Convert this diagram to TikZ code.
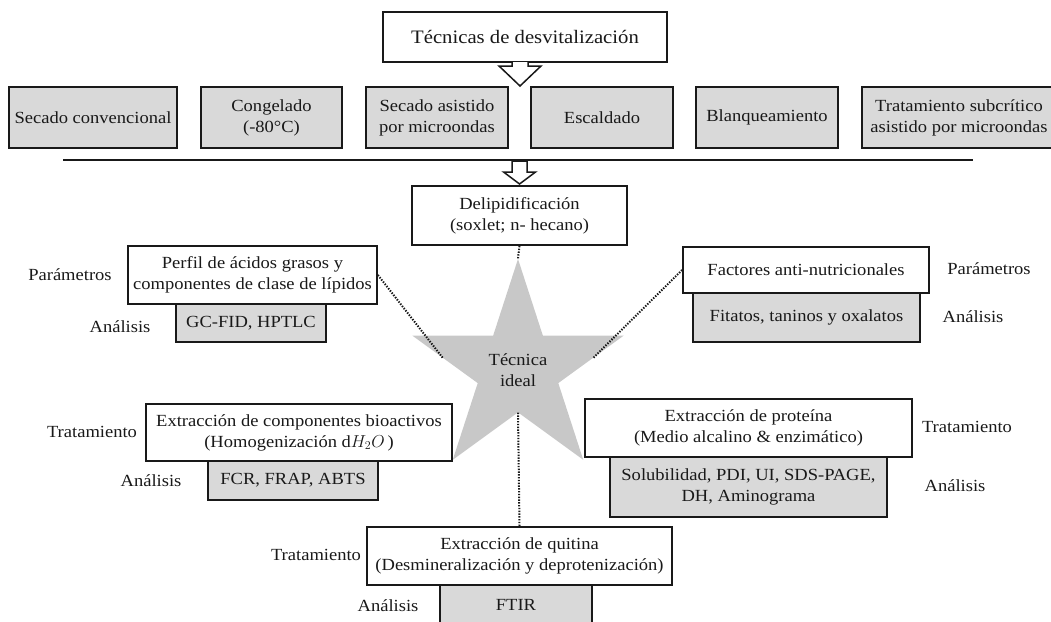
\documentclass[tikz,border=0pt]{standalone}
\usepackage{fontspec}
\setmainfont{Liberation Serif}[FakeStretch=1.09]
\usetikzlibrary{shapes.geometric}
\definecolor{boxgray}{RGB}{217,217,217}
\definecolor{stargray}{RGB}{200,200,200}
\definecolor{ink}{RGB}{25,25,25}

\begin{document}
\begin{tikzpicture}[x=1pt,y=-1pt,
  every node/.style={text=ink, font=\fontsize{17}{21}\selectfont, align=center, inner sep=0pt},
  wbox/.style={draw=ink, line width=1.8pt, fill=white},
  gbox/.style={draw=ink, line width=1.8pt, fill=boxgray},
  dotcon/.style={draw=ink, line width=2pt, dash pattern=on 1.4pt off 1.4pt},
  hollow/.style={draw=ink, line width=1.5pt, fill=white, line join=miter}]
\useasboundingbox (0,0) rectangle (1051,621);

% title and the six drying / pretreatment techniques
\node[wbox, minimum width=284, minimum height=50, font=\fontsize{19}{22}\selectfont] (top) at (525,37) {Técnicas de desvitalización};
\node[gbox, minimum width=168, minimum height=61] (g1) at (93,117.5) {Secado convencional};
\node[gbox, minimum width=141, minimum height=61] (g2) at (271.5,117.5) {Congelado\\(-80°C)};
\node[gbox, minimum width=142, minimum height=61] (g3) at (437,117.5) {Secado asistido\\por microondas};
\node[gbox, minimum width=142, minimum height=61] (g4) at (602,117.5) {Escaldado};
\node[gbox, minimum width=142, minimum height=61] (g5) at (767,117.5) {Blanqueamiento};
\node[gbox, minimum width=194, minimum height=61] (g6) at (959,117.5) {Tratamiento subcrítico\\asistido por microondas};

% separator rule
\coordinate (ruleL) at (63,160);
\coordinate (ruleR) at (973,160);
\draw[ink, line width=1.8pt] (ruleL) -- (ruleR);

% block arrows
\coordinate (a1) at (520,62);
\draw[hollow, shift={(a1)}] (-8,0) -- (-8,4) -- (-21,4) -- (0,24) -- (21,4) -- (8,4) -- (8,0);
\coordinate (a2) at (519.5,161);
\draw[hollow, shift={(a2)}] (-7.5,0) -- (-7.5,11) -- (-16,11) -- (0,23) -- (16,11) -- (7.5,11) -- (7.5,0) -- cycle;

% delipidation
\node[wbox, minimum width=215, minimum height=59] (delip) at (519.5,215.5) {Delipidificación\\(soxlet; n- hecano)};

% central star
\node[star, star points=5, star point ratio=2.62, minimum size=222pt, fill=stargray, draw=none] (star) at (518,370) {};
\node (ideal) at (518,370) {Técnica\\ideal};

% lipid profile
\node[wbox, minimum width=249, minimum height=58] (perfil) at (252.5,275) {Perfil de ácidos grasos y\\componentes de clase de lípidos};
\node[gbox, minimum width=150, minimum height=38] (gcfid) at (251,323) {GC-FID, HPTLC};
\node (parL) at (70,275) {Parámetros};
\node (anL1) at (120,327) {Análisis};

% anti-nutritional factors
\node[wbox, minimum width=246, minimum height=46] (factores) at (806,270) {Factores anti-nutricionales};
\node[gbox, minimum width=227, minimum height=49] (fitatos) at (806.5,317.5) {Fitatos, taninos y oxalatos};
\node (parR) at (989,269) {Parámetros};
\node (anR1) at (973,317) {Análisis};

% bioactive compounds
\node[wbox, minimum width=306, minimum height=57] (bioact) at (299,432.5) {Extracción de componentes bioactivos\\(Homogenización d$H_2O$\,)};
\node[gbox, minimum width=170, minimum height=39] (fcr) at (293,480.5) {FCR, FRAP, ABTS};
\node (trL) at (92,432) {Tratamiento};
\node (anL2) at (151,481) {Análisis};

% protein extraction
\node[wbox, minimum width=327, minimum height=58] (prot) at (748.5,428) {Extracción de proteína\\(Medio alcalino \& enzimático)};
\node[gbox, minimum width=277, minimum height=60] (solub) at (748.5,487) {Solubilidad, PDI, UI, SDS-PAGE,\\DH, Aminograma};
\node (trR) at (967,427) {Tratamiento};
\node (anR2) at (955,486) {Análisis};

% chitin extraction
\node[wbox, minimum width=305, minimum height=58] (quit) at (519.5,556) {Extracción de quitina\\(Desmineralización y deprotenización)};
\node[gbox, minimum width=152, minimum height=40] (ftir) at (516,605) {FTIR};
\node (trQ) at (316,555) {Tratamiento};
\node (anQ) at (388,606) {Análisis};

% dotted links to the star
\draw[dotcon] (delip.south) -- (star.90);
\draw[dotcon] (perfil.east) -- (star.171);
\draw[dotcon] (factores.west) -- (star.9);
\draw[dotcon] (star.270) -- (quit.north);
\end{tikzpicture}
\end{document}
